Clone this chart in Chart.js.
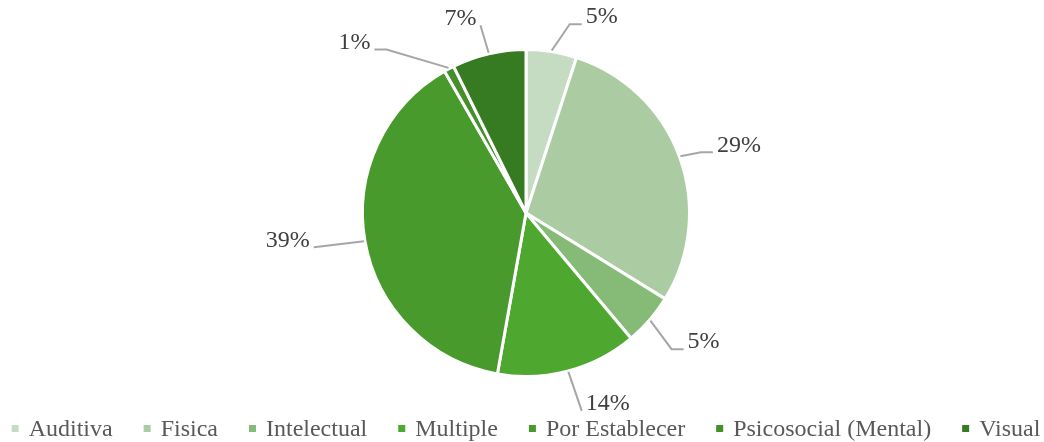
<!DOCTYPE html>
<html>
<head>
<meta charset="utf-8">
<script src="https://cdn.jsdelivr.net/npm/chart.js@4.4.1/dist/chart.umd.min.js"></script>
<style>
  html, body { margin: 0; padding: 0; background: #ffffff; }
  #wrap { width: 1044px; height: 442px; position: relative; }
</style>
</head>
<body>
<div id="wrap"><canvas id="c" width="1044" height="442"></canvas></div>
<script>
const categories = ['Auditiva', 'Fisica', 'Intelectual', 'Multiple', 'Por Establecer', 'Psicosocial (Mental)', 'Visual'];
const shares = [5.0, 28.8, 5.1, 13.9, 38.9, 1.0, 7.3];
const sliceColors = ['#c5dcc2', '#abcca3', '#86bb77', '#4ea72e', '#489a2c', '#43902a', '#367a21'];

const FONT = "'Liberation Serif', 'Times New Roman', serif";

// label placement relative to pie centre, in units of the outer radius, plus horizontal leader length
const labelPlacement = [
  { ox: 0.463, oy: -1.198, h: 12 },
  { ox: 1.302, oy: -0.414, h: 12 },
  { ox: 1.086, oy: 0.790, h: 12 },
  { ox: 0.500, oy: 1.167, h: 0 },
  { ox: -1.457, oy: 0.167, h: 0 },
  { ox: -1.049, oy: -1.043, h: 12 },
  { ox: -0.401, oy: -1.191, h: 0 }
];

const pieLabels = {
  id: 'pieLabels',
  afterDatasetsDraw(chart) {
    const ctx = chart.ctx;
    const meta = chart.getDatasetMeta(0);
    const data = chart.data.datasets[0].data;
    const total = data.reduce((a, b) => a + b, 0);
    ctx.save();
    ctx.font = '24px ' + FONT;
    meta.data.forEach((arc, i) => {
      const p = arc.getProps(['x', 'y', 'startAngle', 'endAngle', 'outerRadius'], true);
      const r = p.outerRadius;
      const mid = (p.startAngle + p.endAngle) / 2;
      const sx = p.x + Math.cos(mid) * (r + 1);
      const sy = p.y + Math.sin(mid) * (r + 1);
      const pl = labelPlacement[i];
      const cx = p.x + pl.ox * r;
      const cy = p.y + pl.oy * r;
      const txt = Math.round(data[i] / total * 100) + '%';
      const w = ctx.measureText(txt).width;
      const right = pl.ox > 0;
      let ex, hx;
      const ly = cy + 7;
      if (right) { hx = cx - w / 2 - 4; ex = hx - pl.h; }
      else { hx = cx + w / 2 + 4; ex = hx + pl.h; }
      ctx.strokeStyle = '#a6a6a6';
      ctx.lineWidth = 2;
      ctx.beginPath();
      ctx.moveTo(sx, sy);
      ctx.lineTo(ex, ly);
      ctx.lineTo(hx, ly);
      ctx.stroke();
      ctx.fillStyle = '#404040';
      ctx.textAlign = 'center';
      ctx.textBaseline = 'middle';
      ctx.fillText(txt, cx, cy);
    });
    ctx.restore();
  }
};

const bottomLegend = {
  id: 'bottomLegend',
  afterDraw(chart) {
    const ctx = chart.ctx;
    const labels = chart.data.labels;
    const colors = chart.data.datasets[0].backgroundColor;
    ctx.save();
    ctx.font = '24px ' + FONT;
    const box = 7, gapBox = 10, gapItem = 31;
    const widths = labels.map(l => box + gapBox + ctx.measureText(l).width);
    const total = widths.reduce((a, b) => a + b, 0) + gapItem * (labels.length - 1);
    const ca = chart.chartArea;
    let x = (ca.left + ca.right) / 2 - total / 2;
    const y = 430;
    labels.forEach((l, i) => {
      ctx.fillStyle = colors[i];
      ctx.fillRect(x, y - 5, box, box);
      ctx.fillStyle = '#595959';
      ctx.textAlign = 'left';
      ctx.textBaseline = 'middle';
      ctx.fillText(l, x + box + gapBox, y);
      x += widths[i] + gapItem;
    });
    ctx.restore();
  }
};

new Chart(document.getElementById('c'), {
  type: 'pie',
  data: {
    labels: categories,
    datasets: [{
      data: shares,
      backgroundColor: sliceColors,
      borderColor: '#ffffff',
      borderWidth: 3
    }]
  },
  options: {
    responsive: false,
    animation: false,
    layout: { padding: { top: 48, bottom: 64, left: 8, right: 0 } },
    plugins: {
      legend: { display: false },
      tooltip: { enabled: false }
    }
  },
  plugins: [pieLabels, bottomLegend]
});
</script>
</body>
</html>
